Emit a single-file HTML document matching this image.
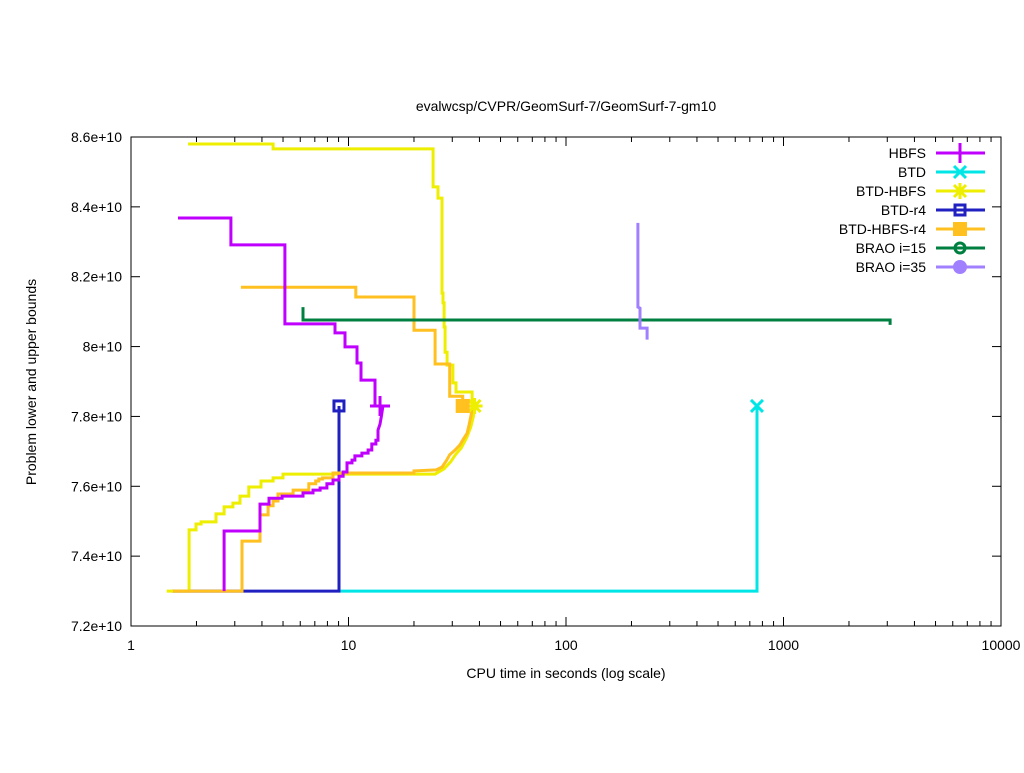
<!DOCTYPE html>
<html><head><meta charset="utf-8"><style>
body{margin:0;background:#fff}
svg text{font-family:"Liberation Sans",sans-serif;font-size:14px;fill:#000}
</style></head><body>
<svg id="chart" width="1024" height="768" xmlns="http://www.w3.org/2000/svg">
<rect width="1024" height="768" fill="#fff"/>
<text x="566" y="111" text-anchor="middle">evalwcsp/CVPR/GeomSurf-7/GeomSurf-7-gm10</text>
<text x="566" y="678" text-anchor="middle">CPU time in seconds (log scale)</text>
<text transform="translate(36,382) rotate(-90)" text-anchor="middle">Problem lower and upper bounds</text>
<g id="axes"></g><g id="series"></g><g id="legend"></g>
</svg>
<script>
const xTicks=[1,10,100,1000,10000];
const xTickLabels=["1","10","100","1000","10000"];
const yTicks=[7.2,7.4,7.6,7.8,8.0,8.2,8.4,8.6];
const yTickLabels=["7.2e+10","7.4e+10","7.6e+10","7.8e+10","8e+10","8.2e+10","8.4e+10","8.6e+10"];
const seriesNames=["HBFS","BTD","BTD-HBFS","BTD-r4","BTD-HBFS-r4","BRAO i=15","BRAO i=35"];
const hbfsUpX=[1.644,2.88,2.88,5.10,5.10,8.67,8.67,9.64,9.64,10.94,10.94,11.41,11.41,13.24,13.24];
const hbfsUpY=[8.368,8.368,8.291,8.291,8.065,8.065,8.039,8.039,7.999,7.999,7.953,7.953,7.904,7.904,7.83];
const hbfsLoX=[2.68,2.68,3.92,3.92,4.31,4.31,4.95,4.95,6.18,6.18,6.87,6.87,7.40,7.40,7.96,7.96,8.49,8.49,9.04,9.04,9.44,9.44,9.84,9.84,10.38,10.38,10.7,10.7,11.53,11.53,12.3,12.3,12.8,12.8,13.37,13.37,13.67,13.67,13.96,14.2,14.4];
const hbfsLoY=[7.30,7.472,7.472,7.549,7.549,7.566,7.566,7.572,7.572,7.581,7.581,7.589,7.589,7.595,7.595,7.607,7.607,7.618,7.618,7.629,7.629,7.641,7.641,7.667,7.667,7.675,7.675,7.687,7.687,7.695,7.695,7.704,7.704,7.721,7.721,7.732,7.732,7.761,7.778,7.804,7.83];
const btdX=[9.2,755,755];
const btdY=[7.30,7.30,7.83];
const bhUpX=[1.83,4.50,4.50,24.5,24.5,25.8,25.8,26.9,26.9,27.2,27.2,27.5,27.5,27.8,27.8,28.4,28.4,30.2,30.2,31.2,31.2,37.0,37.0];
const bhUpY=[8.58,8.58,8.566,8.566,8.457,8.457,8.425,8.425,8.153,8.153,8.125,8.125,8.056,8.056,7.984,7.984,7.947,7.947,7.896,7.896,7.87,7.87,7.83];
const bhLoX=[1.46,1.85,1.85,1.99,1.99,2.10,2.10,2.46,2.46,2.68,2.68,2.94,2.94,3.17,3.17,3.48,3.48,3.96,3.96,4.50,4.50,5.0,5.0,25,27.5,29.5,31,33,35,36.5,37.5,38];
const bhLoY=[7.30,7.30,7.475,7.475,7.492,7.492,7.498,7.498,7.521,7.521,7.541,7.541,7.552,7.552,7.572,7.572,7.598,7.598,7.615,7.615,7.624,7.624,7.635,7.635,7.65,7.67,7.69,7.71,7.74,7.77,7.80,7.83];
const r4X=[1.54,9.04,9.04];
const r4Y=[7.30,7.30,7.83];
const bhr4UpX=[3.2,10.8,10.8,20.0,20.0,25,25,29.2,29.2,33.5,33.5];
const bhr4UpY=[8.17,8.17,8.142,8.142,8.047,8.047,7.95,7.95,7.858,7.858,7.83];
const bhr4LoX=[1.56,3.24,3.24,3.92,3.92,4.27,4.27,4.5,4.5,4.74,4.74,5.56,5.56,6.57,6.57,7.07,7.07,7.3,7.3,7.6,7.6,8.49,8.49,20,20,25.3,26.9,28.1,29.2,30.9,32.5,33.5,35.1,35.8,36.6,37];
const bhr4LoY=[7.30,7.30,7.443,7.443,7.518,7.518,7.544,7.544,7.558,7.558,7.578,7.578,7.589,7.589,7.607,7.607,7.615,7.615,7.621,7.621,7.624,7.624,7.638,7.638,7.644,7.647,7.655,7.672,7.69,7.704,7.718,7.732,7.752,7.775,7.804,7.83];
const brao15X=[6.18,6.18,3090,3090];
const brao15Y=[8.113,8.076,8.076,8.062];
const brao35X=[214,214,219,219,236,236];
const brao35Y=[8.354,8.113,8.11,8.053,8.053,8.02];
const markerX=[13.96,755,38,9.04,33.5];
const markerY=[7.83,7.83,7.83,7.83,7.83];
const colors=["#c000ff","#00e5e5","#eeee00","#2020c0","#ffc020","#008040","#a080ff"];

const L=131,R=1001,T=137,B=626;
const sx=v=>L+(Math.log10(v)-0)/4*(R-L);
const sy=v=>B-(v-7.2)/1.4*(B-T);
const NS="http://www.w3.org/2000/svg";
function mk(tag,parent,attrs){const e=document.createElementNS(NS,tag);for(const k in attrs)e.setAttribute(k,attrs[k]);parent.appendChild(e);return e;}
const axes=document.getElementById('axes'),ser=document.getElementById('series'),leg=document.getElementById('legend');
const frame=mk('rect',axes,{x:L,y:T,width:R-L,height:B-T,fill:'none',stroke:'#000','stroke-width':1});


xTicks.forEach((v,i)=>{
  const x=sx(v);
  mk('line',axes,{x1:x,x2:x,y1:B,y2:B-9,stroke:'#000'});
  mk('line',axes,{x1:x,x2:x,y1:T,y2:T+9,stroke:'#000'});
  const t=mk('text',axes,{x:x,y:B+24,'text-anchor':'middle'});t.textContent=xTickLabels[i];
  
  
  if(i<xTicks.length-1)for(let m=2;m<10;m++){const xm=sx(v*m);
    mk('line',axes,{x1:xm,x2:xm,y1:B,y2:B-5,stroke:'#000'});
    mk('line',axes,{x1:xm,x2:xm,y1:T,y2:T+5,stroke:'#000'});}
});
yTicks.forEach((v,i)=>{
  const y=sy(v);
  mk('line',axes,{x1:L,x2:L+9,y1:y,y2:y,stroke:'#000'});
  mk('line',axes,{x1:R,x2:R-9,y1:y,y2:y,stroke:'#000'});
  const t=mk('text',axes,{x:L-9,y:y+5,'text-anchor':'end'});t.textContent=yTickLabels[i];
  
  
});
function line(xs,ys,c,name){
  const p=mk('polyline',ser,{points:xs.map((x,i)=>sx(x).toFixed(1)+','+sy(ys[i]).toFixed(1)).join(' '),fill:'none',stroke:c,'stroke-width':3,'stroke-linejoin':'miter'});
  
  
}
line(btdX,btdY,colors[1],'btd-line');
line(r4X,r4Y,colors[3],'btd-r4-line');
line(bhLoX,bhLoY,colors[2],'btd-hbfs-lower-line');
line(bhUpX,bhUpY,colors[2],'btd-hbfs-upper-line');
line(bhr4LoX,bhr4LoY,colors[4],'btd-hbfs-r4-lower-line');
line(bhr4UpX,bhr4UpY,colors[4],'btd-hbfs-r4-upper-line');
line(hbfsLoX,hbfsLoY,colors[0],'hbfs-lower-line');
line(hbfsUpX,hbfsUpY,colors[0],'hbfs-upper-line');
line(brao15X,brao15Y,colors[5],'brao-15-line');
line(brao35X,brao35Y,colors[6],'brao-35-line');
function marker(g,k,x,y){
  const c=colors[k];
  if(k===0){mk('path',g,{d:`M${x-10},${y}H${x+10}M${x},${y-10}V${y+10}`,stroke:c,'stroke-width':3});}
  else if(k===1){mk('path',g,{d:`M${x-6},${y-6}L${x+6},${y+6}M${x-6},${y+6}L${x+6},${y-6}`,stroke:c,'stroke-width':3});}
  else if(k===2){mk('path',g,{d:`M${x-6},${y-6}L${x+6},${y+6}M${x-6},${y+6}L${x+6},${y-6}M${x-8},${y}H${x+8}M${x},${y-8}V${y+8}`,stroke:c,'stroke-width':3});}
  else if(k===3){mk('rect',g,{x:x-5,y:y-5,width:10,height:10,fill:'none',stroke:c,'stroke-width':3});}
  else if(k===4){mk('rect',g,{x:x-7,y:y-7,width:14,height:14,fill:c});}
  else if(k===5){mk('circle',g,{cx:x,cy:y,r:5,fill:'none',stroke:c,'stroke-width':3});}
  else {mk('circle',g,{cx:x,cy:y,r:7,fill:c});}
}
markerX.forEach((v,k)=>{
  const g=mk('g',ser,{});
  
  
  marker(g,k,sx(v),sy(markerY[k]));
});
seriesNames.forEach((n,k)=>{
  const y=153+k*19;
  const g=mk('g',leg,{});
  
  
  const t=mk('text',g,{x:926,y:y+5,'text-anchor':'end'});t.textContent=n;
  mk('line',g,{x1:936,x2:985,y1:y,y2:y,stroke:colors[k],'stroke-width':3});
  marker(g,k,960,y);
});
</script>
</body></html>
